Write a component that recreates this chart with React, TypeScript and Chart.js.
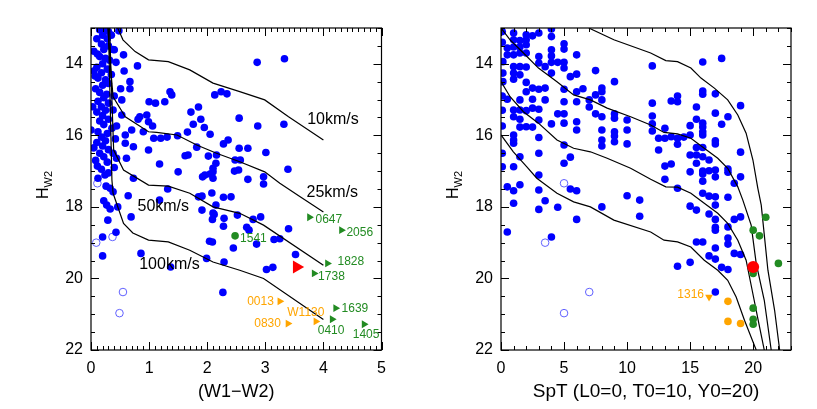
import React, { useEffect, useRef } from 'react';
import { Chart, registerables } from 'chart.js';

Chart.register(...registerables);

type Pt = [number, number];

const FONT = '"Liberation Sans", Arial, sans-serif';

// ---------------- axes ----------------
const yRange: Pt = [13, 22];
const yTicks = [14, 16, 18, 20, 22];
const yMinorStep = 0.5;
const leftXRange: Pt = [0, 5];
const leftXTicks = [0, 1, 2, 3, 4, 5];
const leftXMinorStep = 0.1;
const rightXRange: Pt = [0, 23];
const rightXTicks = [0, 5, 10, 15, 20];
const rightXMinorStep = 1;
const leftXTitle = '(W1\u2212W2)';
const rightXTitle = 'SpT (L0=0, T0=10, Y0=20)';
const yTitle = 'H';
const yTitleSub = 'W2';

// ---------------- left panel: W1-W2 vs H_W2 ----------------
const leftBlue: Pt[] = [
  [0.15, 13.05], [0.25, 13.05], [0.3, 13.1], [0.2, 13.2], [0.1, 13.3], [0.28, 13.3], [0.18, 13.45], [0.3, 13.5],
  [0.22, 13.6], [0.05, 13.65], [0.15, 13.8], [0.25, 13.85], [0.32, 13.9], [0.2, 14.0], [0.1, 14.1], [0.28, 14.15],
  [0.18, 14.25], [0.12, 14.4], [0.25, 14.45], [0.3, 14.55], [0.2, 14.6], [0.08, 14.7], [0.15, 14.8], [0.27, 14.85],
  [0.22, 14.95], [0.12, 15.05], [0.3, 15.1], [0.18, 15.2], [0.25, 15.3], [0.1, 15.35], [0.2, 15.45], [0.3, 15.55],
  [0.15, 15.6], [0.22, 15.7], [0.0, 15.85], [0.12, 15.9], [0.28, 15.95], [0.18, 16.05], [0.25, 16.15], [0.1, 16.2],
  [0.2, 16.3], [0.3, 16.4], [0.15, 16.5], [0.22, 16.6], [0.08, 16.7], [0.28, 16.75], [0.18, 16.95], [0.3, 17.05],
  [0.12, 17.2], [0.35, 13.2], [0.38, 13.6], [0.35, 14.3], [0.4, 14.9], [0.36, 15.8], [0.4, 16.9], [0.05, 14.2],
  [0.03, 15.2], [0.05, 16.35], [0.42, 16.1], [0.38, 16.5], [0.48, 13.08],
  [0.11, 13.73], [0.40, 13.61], [0.56, 13.75], [0.43, 13.96], [0.80, 14.06], [0.57, 14.20], [0.07, 14.34], [0.67, 14.50],
  [0.67, 14.70], [0.51, 14.70], [1.36, 14.78], [1.39, 14.87], [1.27, 15.06], [1.00, 15.06], [1.11, 15.10], [0.53, 15.01],
  [0.38, 15.29], [0.53, 15.43], [0.84, 15.48], [0.81, 15.55], [0.96, 15.43], [0.99, 15.62], [1.06, 15.74], [0.70, 15.85],
  [0.59, 15.99], [0.44, 15.74], [0.90, 15.90], [1.08, 16.08], [1.20, 16.08], [1.31, 16.05], [1.49, 16.01], [1.66, 15.91],
  [1.76, 15.69], [1.72, 15.35], [1.85, 15.21], [1.89, 15.55], [1.95, 15.78], [2.05, 15.97], [2.13, 14.87], [2.24, 14.78],
  [2.34, 14.84], [2.55, 15.52], [2.36, 16.13], [2.28, 16.24], [1.82, 16.33], [1.67, 16.55], [1.62, 16.57], [2.02, 16.58],
  [2.16, 16.55], [0.99, 16.41], [0.73, 16.32], [0.59, 16.22], [0.61, 16.64], [0.44, 16.64], [1.18, 16.80], [1.50, 17.02],
  [1.96, 17.11], [2.10, 16.92], [2.48, 16.69], [2.54, 16.97], [0.11, 16.86], [0.24, 17.11], [0.73, 17.20],
  [2.86, 13.96], [3.33, 13.86], [2.87, 15.74], [3.32, 15.69], [2.55, 16.36], [2.70, 16.36], [3.01, 16.48], [2.57, 16.69],
  [2.15, 16.78], [2.47, 17.0], [2.10, 17.02], [2.05, 17.08], [1.92, 17.16], [2.70, 17.23], [2.97, 17.16], [3.39, 16.95],
  [2.10, 17.20], [2.97, 17.36], [1.91, 17.70], [2.08, 17.61], [2.28, 17.73], [2.41, 17.72], [2.15, 17.95], [1.91, 18.09],
  [2.12, 18.21], [2.09, 18.35], [2.29, 18.32], [2.28, 18.54], [2.52, 18.23], [2.79, 18.35], [2.92, 18.28], [2.68, 18.57],
  [2.72, 18.65], [3.40, 18.61], [2.04, 18.96], [2.09, 18.98], [2.45, 19.15], [2.85, 19.04], [3.15, 18.91], [3.25, 18.89],
  [3.52, 19.33], [1.99, 19.44], [2.29, 19.54], [3.02, 19.75], [3.13, 19.69], [2.27, 20.39],
  [0.26, 17.42], [0.33, 17.48], [0.38, 17.58], [0.22, 17.83], [0.27, 17.95], [0.33, 18.06], [0.46, 18.0], [0.29, 18.37],
  [0.64, 17.69], [0.69, 18.28], [0.43, 18.71], [0.20, 18.84], [0.20, 19.37], [0.86, 19.30], [1.18, 17.81], [1.32, 17.50],
  [1.37, 19.68], [1.85, 17.72], [2.10, 18.17],
];
const leftOpen: Pt[] = [[0.11, 17.34], [0.09, 19.0], [0.37, 18.84], [0.55, 20.38], [0.49, 20.97]];

const vel10: Pt[] = [[0.46, 13.0], [0.55, 13.33], [0.76, 13.66], [0.99, 13.89], [1.33, 13.94], [1.70, 14.17], [2.10, 14.54], [2.56, 14.78], [2.99, 15.01], [3.40, 15.48], [4.00, 16.13]];
const vel25: Pt[] = [[0.29, 13.0], [0.34, 14.17], [0.38, 14.92], [0.59, 15.48], [0.99, 15.90], [1.13, 15.92], [1.48, 15.99], [1.82, 16.27], [2.16, 16.50], [2.56, 16.74], [2.99, 17.02], [3.25, 17.34], [3.60, 17.72], [4.00, 18.14]];
const vel50: Pt[] = [[0.32, 13.0], [0.36, 15.01], [0.39, 16.41], [0.56, 16.97], [0.99, 17.39], [1.33, 17.42], [1.70, 17.62], [2.10, 18.0], [2.56, 18.18], [2.97, 18.51], [4.00, 19.63]];
const vel100: Pt[] = [[0.30, 13.0], [0.36, 17.25], [0.38, 17.62], [0.56, 18.46], [0.72, 18.73], [0.99, 18.93], [1.33, 18.98], [1.70, 19.21], [2.10, 19.54], [2.56, 19.77], [2.97, 20.0], [4.00, 21.15]];
const velNames = ['10km/s', '25km/s', '50km/s', '100km/s'];
const velNameX = [3.72, 3.71, 0.80, 0.83];
const velNameY = [15.55, 17.6, 17.98, 19.61];

// ---------------- named objects (both panels) ----------------
const greenNames = ['0647', '2056', '1541', '1828', '1738', '1639', '0410', '1405'];
const greenW1W2 = [3.76, 4.31, 2.48, 4.07, 3.84, 4.21, 4.15, 4.70];
const greenSpT = [21, 20, 20.5, 22, 20, 20, 20, 20];
const greenH = [18.29, 18.65, 18.81, 19.58, 19.86, 20.83, 21.14, 21.28];
const greenIsLimit = [true, true, false, true, true, true, true, true];

const orangeNames = ['0013', 'W1130', '0830'];
const orangeW1W2 = [3.25, 3.87, 3.39];
const orangeSpT = [18, 18, 19];
const orangeH = [20.64, 21.2, 21.26];

const extraName = '1316';
const extraSpT = 16.5;
const extraH = 20.52;

const redW1W2 = 3.54;
const redSpT = 20;
const redH = 19.68;

// ---------------- right panel: SpT vs H_W2 ----------------
const rightBlue: Pt[] = [
  [1, 13.14], [2, 13.19], [2.5, 13.22], [3, 13.14], [4, 13.03], [4, 13.24], [1, 13.33], [1.5, 13.35], [2, 13.33], [2, 13.47],
  [1.5, 13.53], [1, 13.53], [0.5, 13.56], [0.5, 13.75], [1, 13.75], [1.5, 13.70], [2, 13.70], [5, 13.44], [5, 13.59], [4, 13.61],
  [4, 13.78], [3, 13.80], [6, 13.75], [0.15, 13.94], [3, 13.98], [4, 13.96], [4.5, 13.96], [5, 13.96], [1, 14.08], [1.5, 14.08],
  [2, 14.09], [3.5, 14.08], [5, 14.12], [7.5, 14.19], [0.15, 14.26], [1, 14.26], [1.5, 14.31], [4, 14.26], [5.5, 14.36], [6, 14.29],
  [1, 14.43], [0.15, 14.50], [2, 14.52], [9, 14.50], [2.5, 14.68], [3, 14.71], [3.5, 14.68], [2, 14.78], [5, 14.71], [6, 14.78],
  [6.5, 14.70], [8, 14.68], [7.5, 14.87], [8, 14.78], [0.5, 14.99], [1.5, 15.01], [2.5, 14.99], [3.5, 15.01], [5, 15.06], [6, 15.06],
  [7, 15.01], [8, 15.01], [1, 15.29], [1.5, 15.29], [2, 15.31], [2.5, 15.24], [3, 15.27], [4.5, 15.40], [5, 15.40], [7, 15.21],
  [7.5, 15.40], [8, 15.48], [9, 15.40], [9, 15.52], [10, 15.57], [1, 15.48], [1.5, 15.55], [3, 15.57], [4, 15.68], [0.1, 15.74],
  [1.5, 15.77], [2, 15.76], [2.5, 15.77], [5, 15.66], [6, 15.62], [6, 15.85], [8, 15.85], [9, 15.90], [10, 15.85], [1, 15.99],
  [1, 16.13], [3, 16.06], [9, 16.02], [5, 16.27], [8, 16.13], [8, 16.30], [9, 16.18], [10, 16.24], [1, 16.22], [3, 16.50],
  [5.5, 16.61], [5, 16.78], [0.1, 16.88], [1, 16.88], [3, 17.11], [1.5, 16.60],
  [0.1, 13.1], [0.1, 13.4], [0.1, 14.9], [0.1, 15.3], [0.1, 16.5],
  [12, 14.06], [16, 13.95], [17.5, 13.85], [16, 14.76], [16, 14.85], [17, 14.84], [14, 14.90], [13.5, 15.04], [14, 15.06], [12, 15.10],
  [15.5, 15.21], [19, 15.17], [17, 15.38], [18, 15.48], [12, 15.46], [15.5, 15.55], [16, 15.66], [17.5, 15.69], [12, 15.68], [12, 15.88],
  [13, 15.80], [15, 15.73], [16, 15.77], [16, 15.90], [16, 15.99], [12.5, 16.08], [13, 16.08], [13.5, 16.04], [14, 16.08], [14.5, 16.05],
  [15, 15.99], [14, 16.25], [12.5, 16.41], [15.5, 16.34], [16, 16.34], [17, 16.15], [17, 16.24], [19, 16.47], [15, 16.55], [15.5, 16.55],
  [16, 16.60], [15.5, 16.78], [16.5, 16.69], [13, 16.86], [13.5, 16.80], [15, 17.02], [16, 17.0], [16, 17.08], [16.5, 16.99], [17, 16.97],
  [17, 17.16], [18, 16.94], [18, 17.03], [19, 17.16], [18.5, 17.34], [13, 17.23], [16, 17.28], [14, 17.48],
  [0.5, 17.44], [1, 17.55], [1.5, 17.38], [1, 17.90], [0.5, 18.70], [3, 17.53], [3, 18.07], [3.5, 17.83], [4.5, 18.01], [4, 18.84],
  [5.5, 17.50], [6, 17.55], [6, 18.35], [8, 18.0], [10, 17.69], [11, 17.81], [11, 18.26],
  [16, 17.62], [16.5, 17.70], [17, 17.72], [18, 17.73], [15, 17.98], [15.5, 18.09], [17, 17.95], [16.5, 18.20], [17, 18.35], [17, 18.57],
  [17, 18.65], [18, 18.56], [18.5, 18.35], [19, 18.28], [18, 18.87], [18, 19.04], [15.5, 18.98], [16, 18.98], [17, 19.15], [16.5, 19.37],
  [17, 19.46], [18.5, 19.30], [19, 19.33], [15, 19.55], [14, 19.66], [17.5, 19.69], [18, 19.75], [17, 20.38],
];
const rightOpen: Pt[] = [[5, 17.34], [3.5, 19.0], [7, 20.38], [5, 20.97]];

const track1: Pt[] = [[6.96, 13.0], [8.95, 13.33], [11.87, 13.70], [13.07, 13.91], [14.0, 13.94], [15.06, 14.12], [15.86, 14.40], [16.92, 14.68], [17.98, 15.01], [18.78, 15.43], [19.44, 15.94], [19.98, 16.69], [20.37, 17.48], [20.64, 17.95], [21.17, 19.77], [21.7, 20.89], [22.1, 22.0]];
const track2: Pt[] = [[0, 13.0], [0.72, 13.33], [1.78, 13.70], [2.97, 14.12], [4.44, 14.50], [5.76, 14.87], [7.09, 15.01], [8.42, 15.24], [10.28, 15.48], [11.87, 15.71], [12.93, 15.92], [14.0, 15.96], [15.06, 16.08], [16.12, 16.36], [17.19, 16.64], [17.98, 16.92], [18.78, 17.44], [19.18, 17.81], [19.84, 18.51], [20.24, 19.58], [20.88, 20.61], [21.43, 22.0]];
const track3: Pt[] = [[0, 14.5], [0.72, 14.92], [1.78, 15.34], [2.97, 15.66], [4.44, 16.13], [5.76, 16.36], [7.09, 16.46], [8.42, 16.64], [10.28, 16.92], [11.87, 17.23], [13.07, 17.44], [14.0, 17.45], [15.06, 17.62], [16.12, 17.90], [17.19, 18.18], [17.98, 18.46], [18.78, 18.93], [19.44, 19.49], [19.92, 20.33], [20.4, 21.17], [20.88, 22.0]];
const track4: Pt[] = [[0, 15.99], [0.98, 16.46], [2.05, 16.88], [2.84, 17.20], [3.37, 17.34], [4.44, 17.62], [5.76, 17.86], [7.09, 18.0], [8.95, 18.37], [11.87, 18.70], [12.93, 18.93], [14.0, 18.98], [15.06, 19.12], [16.12, 19.49], [17.19, 19.77], [17.98, 20.05], [18.65, 20.52], [19.31, 21.17], [20.24, 22.0]];

// ---------------- styles ----------------
const BLUE = '#0000ff';
const OPEN = '#6060ff';
const GREEN = '#228b22';
const ORANGE = '#ffa500';
const RED = '#ff0000';
// label offsets in px: [dx, dy, align]
const tagStyle: Record<string, [number, number, CanvasTextAlign]> = {
  '0647': [6, 2, 'left'], '2056': [5, 3, 'left'], '1541': [5, 3, 'left'], '1828': [10, -2, 'left'],
  '1738': [4, 3, 'left'], '1639': [6, 1, 'left'], '0410': [-1, 11, 'center'], '1405': [2, 10, 'center'],
  '0013': [-6, 0, 'right'], 'W1130': [-10, -9, 'center'], '0830': [-7, 0, 'right'], '1316': [-5, -2, 'right'],
};

type Tag = { text: string; x: number; y: number; dx: number; dy: number; align: CanvasTextAlign; color: string; size: number };

const xy = (arr: Pt[]) => arr.map(([x, y]) => ({ x, y }));

const framePlugin = {
  id: 'frame',
  afterDraw(chart: any, _a: any, opts: any) {
    const { ctx, chartArea: a } = chart;
    const xs = chart.scales.x;
    const ys = chart.scales.y;
    ctx.save();
    ctx.strokeStyle = '#000';
    ctx.lineWidth = 1;
    ctx.beginPath();
    const near = (list: number[], v: number) => list.some((m) => Math.abs(m - v) < 1e-6);
    const nx = Math.round((xs.max - xs.min) / opts.xMinor);
    for (let i = 0; i <= nx; i++) {
      const v = xs.min + i * opts.xMinor;
      const len = near(opts.xMajor, v) ? 8 : 4;
      const p = Math.round(xs.getPixelForValue(v)) + 0.5;
      ctx.moveTo(p, a.bottom); ctx.lineTo(p, a.bottom - len);
      ctx.moveTo(p, a.top); ctx.lineTo(p, a.top + len);
    }
    const ny = Math.round((ys.max - ys.min) / opts.yMinor);
    for (let i = 0; i <= ny; i++) {
      const v = ys.min + i * opts.yMinor;
      const len = near(opts.yMajor, v) ? 8 : 4;
      const p = Math.round(ys.getPixelForValue(v)) + 0.5;
      ctx.moveTo(a.left, p); ctx.lineTo(a.left + len, p);
      ctx.moveTo(a.right, p); ctx.lineTo(a.right - len, p);
    }
    ctx.stroke();
    ctx.lineWidth = 1.2;
    ctx.strokeRect(a.left, a.top, a.right - a.left, a.bottom - a.top);

    // y title with subscript
    ctx.save();
    ctx.translate(a.left - 49, (a.top + a.bottom) / 2 - 4);
    ctx.rotate(-Math.PI / 2);
    ctx.fillStyle = '#000';
    ctx.textBaseline = 'alphabetic';
    ctx.textAlign = 'left';
    ctx.font = `16px ${FONT}`;
    const wH = ctx.measureText(yTitle).width;
    ctx.font = `11px ${FONT}`;
    const wS = ctx.measureText(yTitleSub).width;
    const s = -(wH + wS) / 2;
    ctx.font = `16px ${FONT}`;
    ctx.fillText(yTitle, s, 6);
    ctx.font = `11px ${FONT}`;
    ctx.fillText(yTitleSub, s + wH, 10);
    ctx.restore();

    // text tags
    ctx.textBaseline = 'middle';
    (opts.tags as Tag[]).forEach((t) => {
      ctx.font = `${t.size}px ${FONT}`;
      ctx.fillStyle = t.color;
      ctx.textAlign = t.align;
      ctx.fillText(t.text, xs.getPixelForValue(t.x) + t.dx, ys.getPixelForValue(t.y) + t.dy);
    });
    ctx.restore();
  },
};

function makeConfig(p: {
  datasets: any[];
  xRange: Pt;
  xTicks: number[];
  xMinor: number;
  xTitle: string;
  xTitleSize: number;
  yWidth: number;
  padRight: number;
  tags: Tag[];
}) {
  const tickFont = { family: FONT, size: 16 };
  return {
    type: 'scatter',
    data: { datasets: p.datasets },
    plugins: [framePlugin],
    options: {
      animation: false,
      responsive: false,
      maintainAspectRatio: false,
      events: [],
      layout: { padding: { left: 0, top: 28, right: p.padRight, bottom: 0 } },
      plugins: {
        legend: { display: false },
        tooltip: { enabled: false },
        frame: { xMinor: p.xMinor, xMajor: p.xTicks, yMinor: yMinorStep, yMajor: yTicks, tags: p.tags },
      },
      scales: {
        x: {
          type: 'linear',
          min: p.xRange[0],
          max: p.xRange[1],
          afterBuildTicks: (s: any) => { s.ticks = p.xTicks.map((v) => ({ value: v })); },
          afterFit: (s: any) => { s.height = 59; },
          grid: { display: false, drawTicks: false },
          border: { display: false },
          ticks: { color: '#000', font: tickFont, padding: 9, maxRotation: 0, autoSkip: false, callback: (v: any) => String(v) },
          title: { display: true, text: p.xTitle, color: '#000', font: { family: FONT, size: p.xTitleSize }, padding: { top: 0, bottom: 6 } },
        },
        y: {
          type: 'linear',
          reverse: true,
          min: yRange[0],
          max: yRange[1],
          afterBuildTicks: (s: any) => { s.ticks = yTicks.map((v) => ({ value: v })); },
          afterFit: (s: any) => { s.width = p.yWidth; },
          grid: { display: false, drawTicks: false },
          border: { display: false },
          ticks: { color: '#000', font: tickFont, padding: 8, autoSkip: false, callback: (v: any) => String(v) },
        },
      },
    },
  } as any;
}

const lineDs = (d: Pt[]) => ({
  data: xy(d), showLine: true, borderColor: '#000', borderWidth: 1.2, pointRadius: 0, tension: 0, fill: false, clip: 0,
});
const dotDs = (d: { x: number; y: number }[], color: string, r: number, extra: any = {}) => ({
  data: d, pointRadius: r, pointBackgroundColor: color, pointBorderColor: color, pointBorderWidth: 0, pointHoverRadius: r, clip: 0, ...extra,
});

const BLUE_R = 3.8;

function leftConfig() {
  const tags: Tag[] = [];
  greenNames.forEach((n, i) => {
    const [dx, dy, align] = tagStyle[n];
    tags.push({ text: n, x: greenW1W2[i], y: greenH[i], dx, dy, align, color: GREEN, size: 12 });
  });
  orangeNames.forEach((n, i) => {
    const [dx, dy, align] = tagStyle[n];
    tags.push({ text: n, x: orangeW1W2[i], y: orangeH[i], dx, dy, align, color: ORANGE, size: 12 });
  });
  velNames.forEach((n, i) => {
    tags.push({ text: n, x: velNameX[i], y: velNameY[i], dx: 0, dy: 0, align: 'left', color: '#000', size: 16 });
  });
  const datasets = [
    dotDs([{ x: redW1W2, y: redH }], RED, 7.5, { pointStyle: 'triangle', pointRotation: 90 }),
    dotDs(greenNames.map((_, i) => ({ x: greenW1W2[i], y: greenH[i] })), GREEN,
      0, {
        pointRadius: greenIsLimit.map((l) => (l ? 4.5 : 3.8)),
        pointStyle: greenIsLimit.map((l) => (l ? 'triangle' : 'circle')),
        pointRotation: greenIsLimit.map((l) => (l ? 90 : 0)),
      }),
    dotDs(orangeNames.map((_, i) => ({ x: orangeW1W2[i], y: orangeH[i] })), ORANGE, 4.5, { pointStyle: 'triangle', pointRotation: 90 }),
    lineDs(vel10), lineDs(vel25), lineDs(vel50), lineDs(vel100),
    dotDs(xy(leftBlue), BLUE, BLUE_R),
    dotDs(xy(leftOpen), 'rgba(0,0,0,0)', 3.8, { pointBorderColor: OPEN, pointBorderWidth: 1 }),
  ];
  return makeConfig({ datasets, xRange: leftXRange, xTicks: leftXTicks, xMinor: leftXMinorStep, xTitle: leftXTitle, xTitleSize: 18, yWidth: 91, padRight: 27.5, tags });
}

function rightConfig() {
  const [dx, dy, align] = tagStyle[extraName];
  const tags: Tag[] = [{ text: extraName, x: extraSpT, y: extraH, dx, dy, align, color: ORANGE, size: 12 }];
  const datasets = [
    dotDs([{ x: redSpT, y: redH }], RED, 6),
    dotDs(greenNames.map((_, i) => ({ x: greenSpT[i], y: greenH[i] })), GREEN, BLUE_R),
    dotDs(orangeNames.map((_, i) => ({ x: orangeSpT[i], y: orangeH[i] })), ORANGE, BLUE_R),
    dotDs([{ x: extraSpT, y: extraH }], ORANGE, 4.5, { pointStyle: 'triangle', pointRotation: 180 }),
    lineDs(track1), lineDs(track2), lineDs(track3), lineDs(track4),
    dotDs(xy(rightBlue), BLUE, BLUE_R),
    dotDs(xy(rightOpen), 'rgba(0,0,0,0)', 3.8, { pointBorderColor: OPEN, pointBorderWidth: 1 }),
  ];
  return makeConfig({ datasets, xRange: rightXRange, xTicks: rightXTicks, xMinor: rightXMinorStep, xTitle: rightXTitle, xTitleSize: 19, yWidth: 92, padRight: 26, tags });
}

function Panel({ left, width, build }: { left: number; width: number; build: () => any }) {
  const ref = useRef<HTMLCanvasElement | null>(null);
  useEffect(() => {
    if (!ref.current) return;
    const chart = new Chart(ref.current, build());
    return () => chart.destroy();
  }, []);
  return (
    <canvas ref={ref} width={width} height={409} style={{ position: 'absolute', left, top: 0, width, height: 409 }} />
  );
}

export default function App() {
  return (
    <div style={{ position: 'fixed', left: 0, top: 0, width: 817, height: 409, background: '#fff', overflow: 'hidden' }}>
      <Panel left={0} width={409} build={leftConfig} />
      <Panel left={409} width={408} build={rightConfig} />
    </div>
  );
}
